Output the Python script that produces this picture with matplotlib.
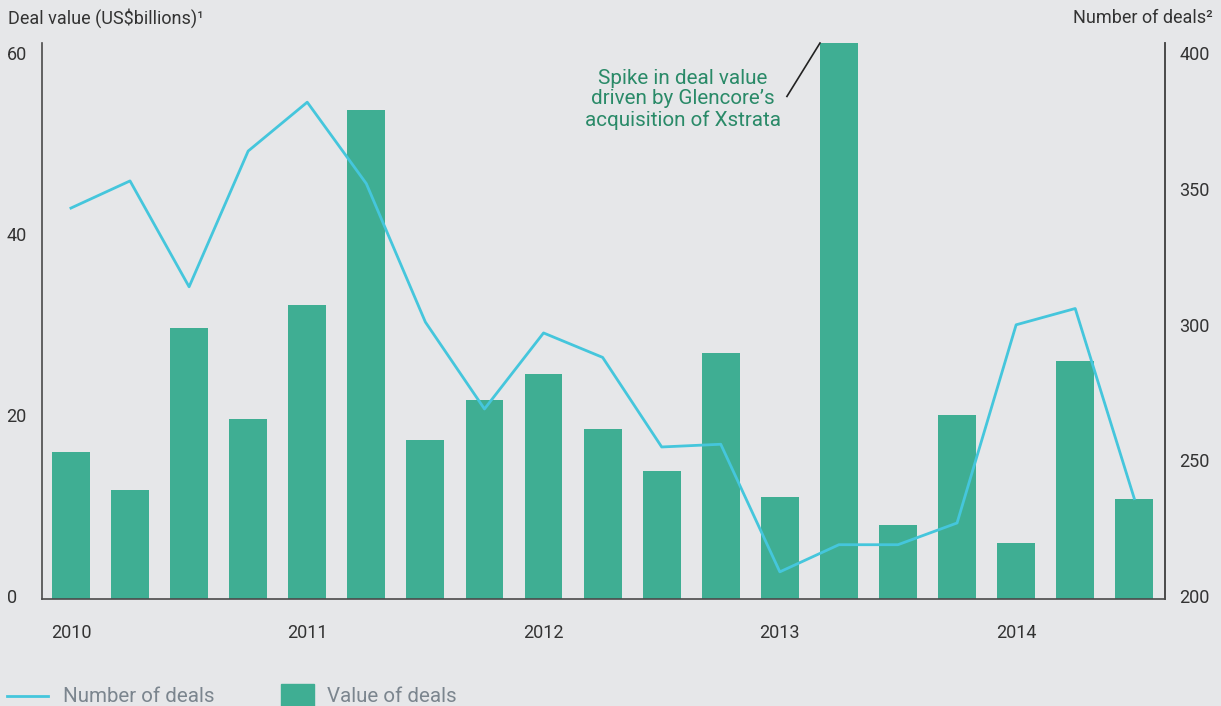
import matplotlib
matplotlib.use("Agg")
import matplotlib.pyplot as plt
import numpy as np
from matplotlib.lines import Line2D
from matplotlib.patches import Rectangle
import matplotlib.transforms as mtransforms

plt.rcParams['font.family'] = ['Roboto', 'DejaVu Sans']

quarters = ["2010Q1", "2010Q2", "2010Q3", "2010Q4",
            "2011Q1", "2011Q2", "2011Q3", "2011Q4",
            "2012Q1", "2012Q2", "2012Q3", "2012Q4",
            "2013Q1", "2013Q2", "2013Q3", "2013Q4",
            "2014Q1", "2014Q2", "2014Q3"]
deal_value = [16.2, 12.0, 29.9, 19.9, 32.5, 54.0, 17.6, 22.0, 24.8, 18.8,
              14.1, 27.2, 11.3, 70.0, 8.2, 20.3, 6.2, 26.3, 11.0]
num_deals = [344, 354, 315, 365, 383, 353, 302, 270, 298, 289,
             256, 257, 210, 220, 220, 228, 301, 307, 237]
year_labels = ["2010", "2011", "2012", "2013", "2014"]
left_ticks = [0, 20, 40, 60]
right_ticks = [200, 250, 300, 350, 400]

BG = "#e6e7e9"
BAR = "#3fae93"
LINE = "#45c6dc"
TXT = "#333333"
SPINE = "#4a4a4a"

fig = plt.figure(figsize=(12.21, 7.06), dpi=100, facecolor=BG)
ax = fig.add_axes([42/1221, 1-599/706, (1165-42)/1221, (599-43)/706])
ax.set_facecolor(BG)
x = np.arange(len(quarters))
ax.bar(x, deal_value, width=0.64, color=BAR, zorder=2)
ax.set_xlim(-0.49, 18.52)
ax.set_ylim(0, 61.4)
ax.set_yticks(left_ticks)
ax.set_yticklabels([str(t) for t in left_ticks])
for lab in ax.get_yticklabels():
    lab.set_ha('left')
ax.tick_params(axis='y', length=0, pad=25.5, labelsize=13, labelcolor=TXT)
ax.set_xticks(x[::4])
ax.set_xticklabels(year_labels)
ax.tick_params(axis='x', length=0, pad=18, labelsize=13, labelcolor=TXT)
ax.spines['top'].set_visible(False)
for s in ['left', 'right', 'bottom']:
    ax.spines[s].set_color(SPINE)
    ax.spines[s].set_linewidth(1.2)

ax2 = ax.twinx()
ax2.set_ylim(200, 404.8)
ax2.plot(x, num_deals, color=LINE, lw=2, zorder=3)
ax2.set_yticks(right_ticks)
ax2.set_yticklabels([str(t) for t in right_ticks])
ax2.tick_params(axis='y', length=0, pad=10.5, labelsize=13, labelcolor=TXT)
ax2.spines['top'].set_visible(False)
ax2.spines['right'].set_color(SPINE)
ax2.spines['right'].set_linewidth(1.2)
ax2.spines['left'].set_visible(False)
ax2.spines['bottom'].set_visible(False)

off = mtransforms.ScaledTranslation(0, 3/100, fig.dpi_scale_trans)
for lab in ax.get_yticklabels() + ax2.get_yticklabels():
    lab.set_transform(lab.get_transform() + off)

# axis titles
fig.text(8/1221, 1-18/706, "Deal value (US$billions)\u00b9", fontsize=13, color=TXT,
         ha='left', va='center')
fig.text(1213/1221, 1-18/706, "Number of deals\u00b2", fontsize=13, color=TXT,
         ha='right', va='center')

# annotation
ax.text(10.36, 55.2, "Spike in deal value\ndriven by Glencore\u2019s\nacquisition of Xstrata",
        fontsize=14.9, color="#2a8a68", ha='center', va='center', linespacing=1.12)
ax.plot([12.12, 12.68], [55.5, 61.4], color='#222222', lw=1.2, clip_on=False, zorder=4)

# legend
fig.add_artist(Line2D([7/1221, 48/1221], [1-696/706, 1-696/706],
                      color=LINE, lw=2, transform=fig.transFigure))
fig.text(63/1221, 1-697/706, "Number of deals", fontsize=14.8, color="#7b858e",
         ha='left', va='center')
fig.add_artist(Rectangle((281/1221, 0), 33/1221, 22/706, color=BAR,
                         transform=fig.transFigure))
fig.text(327/1221, 1-697/706, "Value of deals", fontsize=14.8, color="#7b858e",
         ha='left', va='center')

fig.savefig("out.png", dpi=100, facecolor=BG)
